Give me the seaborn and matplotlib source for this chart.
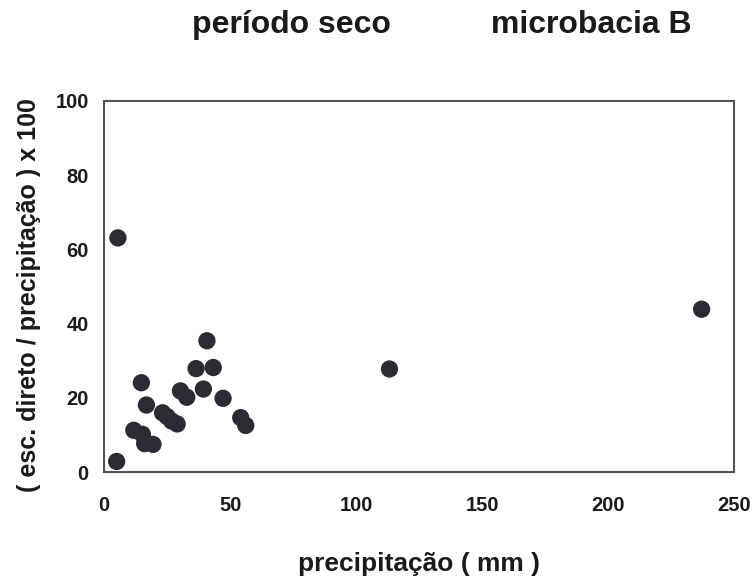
import matplotlib
matplotlib.use('Agg')
import matplotlib.pyplot as plt
import seaborn as sns
import pandas as pd

# dados (período seco, microbacia B)
precipitacao = [5.0, 5.5, 11.8, 14.8, 15.2, 16.1, 16.8, 19.4, 23.2, 25.0, 26.8,
                29.0, 30.3, 32.8, 36.5, 39.4, 40.8, 43.3, 47.2, 54.2, 56.2,
                113.2, 237.0]
escoamento = [2.9, 63.1, 11.3, 24.1, 10.2, 7.7, 18.1, 7.5, 16.0, 15.0, 13.8,
              13.0, 21.9, 20.2, 27.9, 22.4, 35.4, 28.2, 19.9, 14.7, 12.6,
              27.8, 43.9]

df = pd.DataFrame({'precipitacao': precipitacao, 'escoamento': escoamento})

sns.set_style('white')
plt.rcParams['font.family'] = ['Liberation Sans', 'DejaVu Sans']

fig = plt.figure(figsize=(7.54, 5.83), dpi=100)
ax = fig.add_axes([0.138, 0.190, 0.836, 0.637])

sns.scatterplot(data=df, x='precipitacao', y='escoamento', ax=ax,
                s=155, color='#2b2b33', edgecolor='none', legend=False)

ax.set_xlim(0, 250)
ax.set_ylim(0, 100)
ax.set_xticks([0, 50, 100, 150, 200, 250])
ax.set_yticks([0, 20, 40, 60, 80, 100])
ax.tick_params(axis='both', direction='in', length=3, color='#888888',
               labelsize=14.5)
ax.tick_params(axis='x', pad=17)
ax.tick_params(axis='y', pad=11)
for lab in ax.get_xticklabels() + ax.get_yticklabels():
    lab.set_fontweight('bold')
    lab.set_color('#1a1a1a')
for sp in ax.spines.values():
    sp.set_color('#555555')
    sp.set_linewidth(1.5)

ax.set_xlabel('precipitação ( mm )', fontsize=19, fontweight='bold',
              color='#1a1a1a')
ax.xaxis.set_label_coords(0.5, -0.215)
ax.set_ylabel('( esc. direto / precipitação ) x 100', fontsize=18,
              fontweight='bold', color='#1a1a1a')
ax.yaxis.set_label_coords(-0.1, 0.477)

fig.text(0.387, 0.943, 'período seco', fontsize=23, fontweight='bold',
         ha='center', va='baseline', color='#1a1a1a')
fig.text(0.784, 0.943, 'microbacia B', fontsize=23, fontweight='bold',
         ha='center', va='baseline', color='#1a1a1a')

fig.savefig('out.png', dpi=100)
